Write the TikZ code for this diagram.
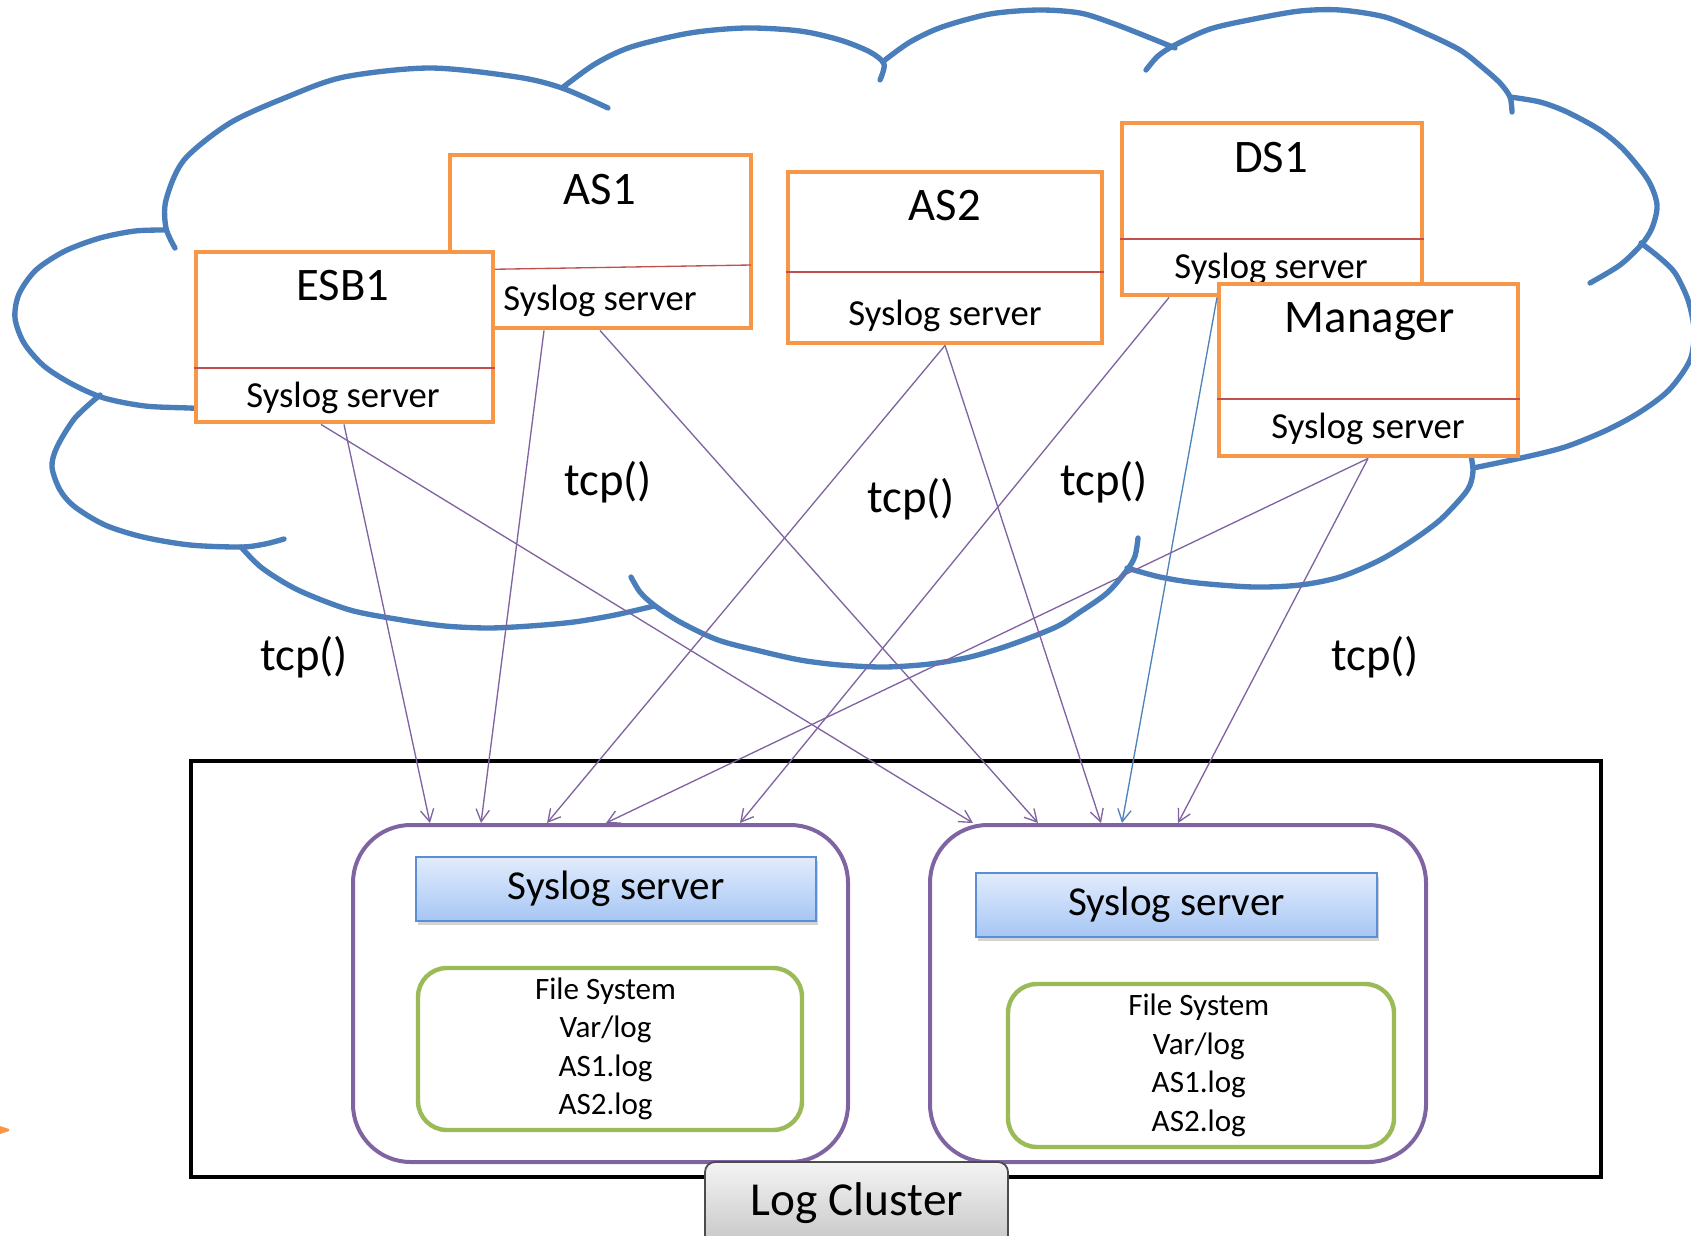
\documentclass[tikz,border=0pt]{standalone}
\usepackage{fontspec}
\setmainfont{Carlito}
\usetikzlibrary{arrows.meta,fit,shadows}
\definecolor{cloudblue}{HTML}{4A7EBB}
\definecolor{boxorange}{HTML}{F79646}
\definecolor{divred}{HTML}{C0504D}
\definecolor{clpurple}{HTML}{8064A2}
\definecolor{fsgreen}{HTML}{9BBB59}
\definecolor{arrowblue}{HTML}{4F81BD}
\definecolor{sbtop}{HTML}{E2ECFC}
\definecolor{sbbot}{HTML}{A6C6F4}
\definecolor{sbborder}{HTML}{5B8ED6}
\definecolor{lctop}{HTML}{F4F4F4}
\definecolor{lcbot}{HTML}{C4C4C4}
\begin{document}
\begin{tikzpicture}[x=0.45pt,y=-0.45pt,
  cloudline/.style={draw=cloudblue,line width=2.4pt,line cap=round},
  obox/.style={draw=boxorange,fill=white,line width=2.2pt,inner sep=0pt},
  divider/.style={draw=divred,line width=0.6pt},
  title/.style={anchor=base,font=\fontsize{21}{24}\selectfont},
  sublabel/.style={anchor=base,font=\fontsize{16.5}{19}\selectfont},
  tcplabel/.style={anchor=base,font=\fontsize{21}{24}\selectfont},
  conn/.style={draw=clpurple,line width=0.6pt,-{Straight Barb[length=5.5pt,width=6pt]}},
  connb/.style={draw=arrowblue,line width=0.6pt,-{Straight Barb[length=5.5pt,width=6pt]}},
  outer/.style={draw=black,line width=2.2pt,inner sep=0pt},
  member/.style={draw=clpurple,line width=1.8pt,rounded corners=26pt,inner sep=0pt},
  sbox/.style={draw=sbborder,line width=0.7pt,top color=sbtop,bottom color=sbbot,inner sep=0pt,
    drop shadow={opacity=0.35,shadow xshift=1pt,shadow yshift=-1.6pt}},
  sboxtext/.style={font=\fontsize{18.5}{21}\selectfont,inner sep=0pt},
  fsbox/.style={draw=fsgreen,line width=2pt,rounded corners=13pt,inner sep=0pt},
  fstext/.style={align=center,font=\fontsize{14}{17.3}\selectfont,inner sep=0pt},
  lcbox/.style={draw=black!70,line width=0.8pt,rounded corners=4.5pt,top color=lctop,bottom color=lcbot,inner sep=0pt}
]
\useasboundingbox (0,0) rectangle (1691,1235);
\clip (0,0) rectangle (1691,1235);

% ---------- cloud ----------
\draw[cloudline] plot[smooth] coordinates {(175,248) (166,228) (166,200) (184,160) (230,123) (287,97) (344,77) (430,68) (517,77) (562,88) (608,108)};
\draw[cloudline] plot[smooth] coordinates {(562,88) (595,64) (631,47) (690,33) (746,28) (800,31) (840,40) (870,52) (884,64) (880,80)};
\draw[cloudline] plot[smooth] coordinates {(885,60) (910,42) (942,27) (990,14) (1039,10) (1080,13) (1112,23) (1148,37) (1175,48)};
\draw[cloudline] plot[smooth] coordinates {(1146,70) (1158,56) (1175,45) (1210,29) (1254,19) (1300,11) (1340,10) (1385,17) (1425,33) (1460,50) (1482,67) (1500,83) (1510,97) (1512,112)};
\draw[cloudline] plot[smooth] coordinates {(1510,97) (1540,102) (1567,112) (1600,130) (1624,150) (1648,180) (1657,205) (1652,228) (1641,245) (1620,265) (1590,283)};
\draw[cloudline] plot[smooth] coordinates {(1641,243) (1660,258) (1675,273) (1688,300) (1694,330) (1690,360) (1669,390) (1640,412) (1607,430) (1565,447) (1521,458) (1473,468)};
\draw[cloudline] plot[smooth] coordinates {(1470,450) (1473,470) (1470,485) (1462,497) (1440,520) (1413,540) (1380,560) (1340,577) (1300,585) (1254,587) (1198,583) (1160,577) (1127,568)};
\draw[cloudline] plot[smooth] coordinates {(1138,538) (1135,556) (1127,570) (1107,593) (1080,612) (1056,627) (1010,645) (970,657) (930,664) (885,667) (840,665) (800,660) (760,651) (718,640) (680,622) (654,605) (640,592) (631,577)};
\draw[cloudline] plot[smooth] coordinates {(241,547) (262,568) (298,590) (350,610) (402,620) (445,626) (488,628) (530,626) (574,622) (615,615) (654,606)};
\draw[cloudline] plot[smooth] coordinates {(100,395) (75,418) (57,447) (52,467) (60,490) (75,507) (105,525) (143,537) (190,545) (241,547) (265,544) (284,539)};
\draw[cloudline] plot[smooth] coordinates {(166,230) (135,231) (100,238) (65,251) (36,270) (19,294) (15,318) (24,343) (44,366) (72,384) (104,398) (145,406) (189,408) (210,409)};

% ---------- hosts ----------
\node[obox,fit={(450,155) (751,328)}] (as1) {};
\draw[divider] (450,270) -- (751,265);
\node[title] (as1t) at (600,204) {AS1};
\node[sublabel] (as1s) at (600,310) {Syslog server};

\node[obox,fit={(196,252) (493,422)}] (esb) {};
\draw[divider] (esb.west |- 0,368) -- (esb.east |- 0,368);
\node[title] (esbt) at (343,300) {ESB1};
\node[sublabel] (esbs) at (343,407) {Syslog server};

\node[obox,fit={(788,172) (1102,343)}] (as2) {};
\draw[divider] (as2.west |- 0,272) -- (as2.east |- 0,272);
\node[title] (as2t) at (945,220) {AS2};
\node[sublabel] (as2s) at (945,325) {Syslog server};

\node[obox,fit={(1122,123) (1422,295)}] (ds1) {};
\draw[divider] (ds1.west |- 0,239) -- (ds1.east |- 0,239);
\node[title] (ds1t) at (1271,172) {DS1};
\node[sublabel] (ds1s) at (1271,278) {Syslog server};

\node[obox,fit={(1219,284) (1518,456)}] (mgr) {};
\draw[divider] (mgr.west |- 0,399) -- (mgr.east |- 0,399);
\node[title] (mgrt) at (1370,332) {Manager};
\node[sublabel] (mgrs) at (1368,438) {Syslog server};

% ---------- log cluster ----------
\node[outer,fit={(191,761) (1601,1177)}] (cluster) {};
\node[member,fit={(353,825) (848,1162)}] (lc) {};
\node[member,fit={(930,825) (1426,1162)}] (rc) {};
\node[sbox,fit={(416,857) (816,921)}] (lsys) {};
\node[sboxtext] (lsyst) at (lsys.center) {Syslog server};
\node[sbox,fit={(976,873) (1377,937)}] (rsys) {};
\node[sboxtext] (rsyst) at (rsys.center) {Syslog server};
\node[fsbox,fit={(418,968) (802,1130)}] (lfs) {};
\node[fstext] (lfst) at ([xshift=-2pt]lfs.center) {File System\\Var/log\\AS1.log\\AS2.log};
\node[fsbox,fit={(1008,984) (1394,1147)}] (rfs) {};
\node[fstext] (rfst) at ([xshift=-1pt]rfs.center) {File System\\Var/log\\AS1.log\\AS2.log};
\node[lcbox,fit={(705,1162) (1008,1250)}] (lcl) {};
\node[anchor=base,font=\fontsize{21.3}{24}\selectfont] (lclt) at (857,1215) {Log Cluster};

% ---------- tcp labels ----------
\node[tcplabel] (tcp1) at (608,495) {tcp()};
\node[tcplabel] (tcp2) at (911,512) {tcp()};
\node[tcplabel] (tcp3) at (1104,495) {tcp()};
\node[tcplabel] (tcp4) at (304,670) {tcp()};
\node[tcplabel] (tcp5) at (1375,670) {tcp()};

% ---------- connectors ----------
\draw[conn] (344,0 |- esb.south) -- (430,0 |- lc.north);
\draw[conn] (321,0 |- esb.south) -- (973,0 |- rc.north);
\draw[conn] (544,0 |- as1.south) -- (481,0 |- lc.north);
\draw[conn] (600,0 |- as1.south) -- (1038,0 |- rc.north);
\draw[conn] (945,0 |- as2.south) -- (547,0 |- lc.north);
\draw[conn] (945,0 |- as2.south) -- (1101,0 |- rc.north);
\draw[conn] (1169,0 |- ds1.south) -- (740,0 |- lc.north);
\draw[connb] (1217,0 |- ds1.south) -- (1122,0 |- rc.north);
\draw[conn] (1368,0 |- mgr.south) -- (606,0 |- lc.north);
\draw[conn] (1368,0 |- mgr.south) -- (1178,0 |- rc.north);

% small orange mark at the left edge
\fill[boxorange] (0,1126) -- (9,1129) -- (9,1131) -- (0,1134) -- cycle;
\end{tikzpicture}
\end{document}
